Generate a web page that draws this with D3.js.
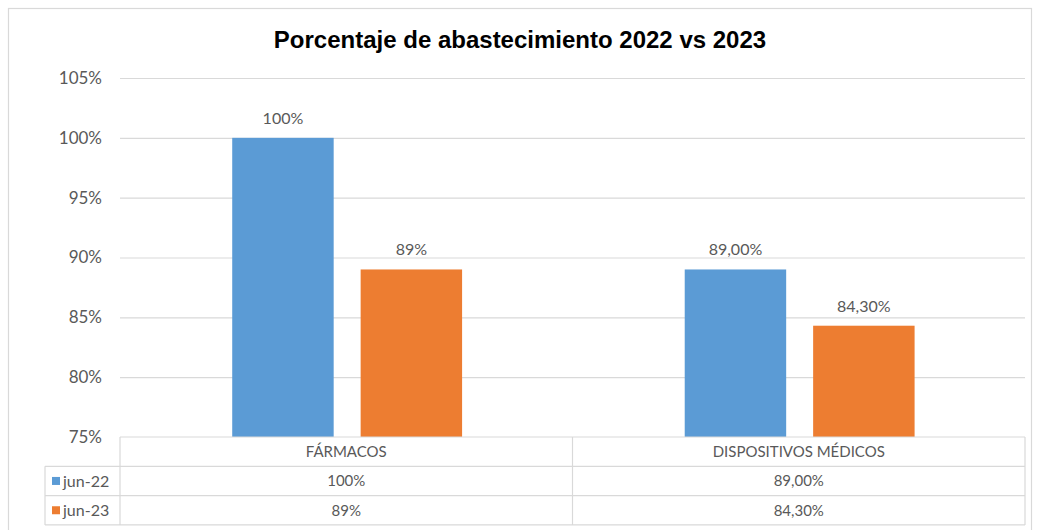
<!DOCTYPE html>
<html>
<head>
<meta charset="utf-8">
<script src="https://cdn.jsdelivr.net/npm/d3@7"></script>
<style>
  html, body { margin: 0; padding: 0; background: #fff; }
  svg { display: block; }
</style>
</head>
<body>
<svg id="chart" width="1037" height="530"></svg>
<script>
const categories = ["FÁRMACOS", "DISPOSITIVOS MÉDICOS"];
const seriesNames = ["jun-22", "jun-23"];
const jun22 = [100, 89.0];
const jun23 = [89, 84.3];
const labels22 = ["100%", "89,00%"];
const labels23 = ["89%", "84,30%"];
const yTicks = [75, 80, 85, 90, 95, 100, 105];
const colors = ["#5B9BD5", "#ED7D31"];

const seriesValues = [jun22, jun23];
const seriesLabels = [labels22, labels23];

const svg = d3.select("#chart");
const W = 1037, H = 530;
const plot = { left: 120, right: 1025, top: 78, bottom: 437 };
const rowH = 29.3;
const gridColor = "#d9d9d9";
const textColor = "#595959";
const fontLabel = "Lato, 'Open Sans', sans-serif";

svg.append("rect").attr("x", 0).attr("y", 0).attr("width", W).attr("height", H).attr("fill", "#fff");
// outer chart border
svg.append("rect").attr("x", 8.5).attr("y", 8.5).attr("width", 1023).attr("height", 540)
  .attr("fill", "none").attr("stroke", "#d9d9d9").attr("stroke-width", 1.2);

// title
svg.append("text")
  .attr("x", 520).attr("y", 48)
  .attr("text-anchor", "middle")
  .attr("font-family", "'Liberation Sans', Arial, sans-serif")
  .attr("font-weight", "bold")
  .attr("font-size", 24)
  .attr("fill", "#000")
  .text("Porcentaje de abastecimiento 2022 vs 2023");

const y = d3.scaleLinear().domain([75, 105]).range([plot.bottom, plot.top]);
const x0 = d3.scaleBand().domain(categories).range([plot.left, plot.right]).padding(0);
const bw = x0.bandwidth();
const x1 = d3.scaleBand().domain(seriesNames).range([bw * 0.248, bw * 0.756]).paddingInner(0.21).paddingOuter(0);

// gridlines
const yAxis = d3.axisLeft(y).tickValues(yTicks).tickSize(-(plot.right - plot.left)).tickFormat(d => d + "%").tickPadding(18);
const gAxis = svg.append("g").attr("transform", `translate(${plot.left},0)`).call(yAxis);
gAxis.select(".domain").remove();
gAxis.selectAll(".tick line").attr("stroke", gridColor).attr("stroke-width", 1.2)
  .filter(d => d === 75).remove();
gAxis.selectAll(".tick text")
  .attr("fill", textColor)
  .attr("font-family", fontLabel)
  .attr("font-size", 17);

// bars
const groups = svg.append("g").selectAll("g")
  .data(categories).join("g")
  .attr("transform", d => `translate(${x0(d)},0)`);

seriesNames.forEach((s, si) => {
  groups.append("rect")
    .attr("x", x1(s))
    .attr("width", x1.bandwidth())
    .attr("y", (d, i) => y(seriesValues[si][i]))
    .attr("height", (d, i) => y(75) - y(seriesValues[si][i]))
    .attr("fill", colors[si]);
  groups.append("text")
    .attr("x", x1(s) + x1.bandwidth() / 2)
    .attr("y", (d, i) => y(seriesValues[si][i]) - 14)
    .attr("text-anchor", "middle")
    .attr("font-family", fontLabel)
    .attr("font-size", 16)
    .attr("fill", textColor)
    .text((d, i) => seriesLabels[si][i]);
});

// data table
const tbl = svg.append("g");
const line = (x1_, y1_, x2_, y2_) => tbl.append("line")
  .attr("x1", x1_).attr("y1", y1_).attr("x2", x2_).attr("y2", y2_)
  .attr("stroke", gridColor).attr("stroke-width", 1.2);
const tTop = plot.bottom;
const legendLeft = 45;
line(plot.left, tTop, plot.right, tTop);
line(legendLeft, tTop + rowH, plot.right, tTop + rowH);
line(legendLeft, tTop + 2 * rowH, plot.right, tTop + 2 * rowH);
line(legendLeft, tTop + 3 * rowH, plot.right, tTop + 3 * rowH);
line(plot.left, tTop, plot.left, tTop + 3 * rowH);
line(legendLeft, tTop + rowH, legendLeft, tTop + 3 * rowH);
categories.forEach(c => line(x0(c) + bw, tTop, x0(c) + bw, tTop + 3 * rowH));

categories.forEach((c, ci) => {
  tbl.append("text")
    .attr("x", x0(c) + bw / 2).attr("y", tTop + rowH / 2)
    .attr("dy", "0.35em").attr("text-anchor", "middle")
    .attr("font-family", fontLabel).attr("font-size", 15).attr("fill", textColor)
    .text(c);
  seriesNames.forEach((s, si) => {
    tbl.append("text")
      .attr("x", x0(c) + bw / 2).attr("y", tTop + rowH * (si + 1) + rowH / 2)
      .attr("dy", "0.35em").attr("text-anchor", "middle")
      .attr("font-family", fontLabel).attr("font-size", 15).attr("fill", textColor)
      .text(seriesLabels[si][ci]);
  });
});
seriesNames.forEach((s, si) => {
  const cy = tTop + rowH * (si + 1) + rowH / 2;
  tbl.append("rect").attr("x", 52).attr("y", cy - 4).attr("width", 8).attr("height", 8).attr("fill", colors[si]);
  tbl.append("text")
    .attr("x", 63).attr("y", cy).attr("dy", "0.35em")
    .attr("font-family", fontLabel).attr("font-size", 16).attr("fill", textColor)
    .text(s);
});
</script>
</body>
</html>
